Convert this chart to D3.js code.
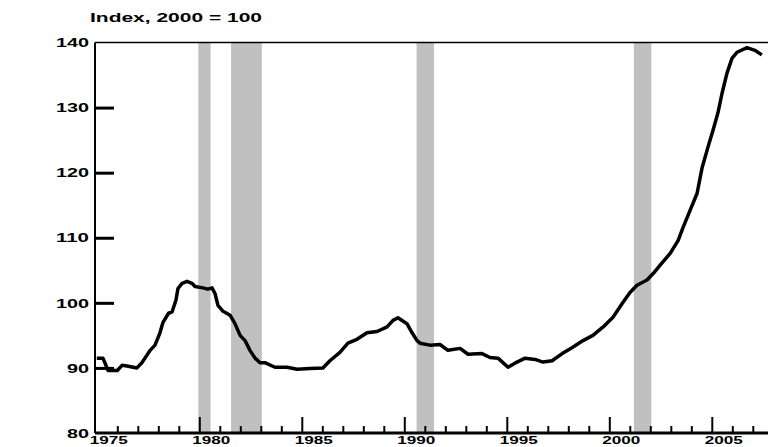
<!DOCTYPE html>
<html>
<head>
<meta charset="utf-8">
<script src="https://cdn.jsdelivr.net/npm/d3@7"></script>
<style>
  html, body { margin: 0; padding: 0; background: #fff; overflow: hidden; }
  text { font-family: "Liberation Sans", Arial, sans-serif; font-weight: bold; fill: #000; }
</style>
</head>
<body>
<div id="graph"></div>
<script>
// index values (decimal year, index)
const years = [1975.0, 1975.3, 1975.55, 1976.0, 1976.23, 1976.47, 1976.96, 1977.2, 1977.6, 1977.84,
  1978.08, 1978.23, 1978.5, 1978.67, 1978.86, 1978.96, 1979.16, 1979.4, 1979.64, 1979.79,
  1980.18, 1980.42, 1980.62, 1980.77, 1980.91, 1981.16, 1981.5, 1981.74, 1981.99, 1982.23,
  1982.47, 1982.72, 1982.96, 1983.2, 1983.69, 1984.28, 1984.77, 1985.4, 1986.03, 1986.37,
  1986.86, 1987.25, 1987.69, 1988.18, 1988.67, 1989.16, 1989.45, 1989.69, 1990.13, 1990.38,
  1990.62, 1990.77, 1991.25, 1991.74, 1992.13, 1992.72, 1993.11, 1993.79, 1994.18, 1994.57,
  1995.06, 1995.5, 1995.89, 1996.38, 1996.77, 1997.21, 1997.7, 1998.18, 1998.72, 1999.2,
  1999.7, 2000.18, 2000.67, 2001.01, 2001.35, 2001.84, 2002.14, 2002.48, 2002.97, 2003.36,
  2003.6, 2003.94, 2004.28, 2004.53, 2004.82, 2005.06, 2005.3, 2005.5, 2005.74, 2005.99,
  2006.23, 2006.72, 2007.1, 2007.44];
const index = [91.5, 91.5, 89.6, 89.6, 90.4, 90.3, 90.0, 90.8, 92.7, 93.5,
  95.4, 97.0, 98.4, 98.6, 100.4, 102.2, 103.0, 103.3, 103.0, 102.5,
  102.3, 102.1, 102.3, 101.4, 99.6, 98.7, 98.1, 96.8, 95.0, 94.2,
  92.7, 91.5, 90.8, 90.8, 90.1, 90.1, 89.8, 89.9, 90.0, 91.1,
  92.4, 93.8, 94.4, 95.4, 95.6, 96.3, 97.3, 97.7, 96.8, 95.4,
  94.2, 93.8, 93.5, 93.6, 92.7, 93.0, 92.1, 92.2, 91.6, 91.5,
  90.1, 90.9, 91.5, 91.3, 90.9, 91.1, 92.2, 93.1, 94.2, 95.0,
  96.3, 97.8, 100.1, 101.6, 102.7, 103.5, 104.5, 105.8, 107.6, 109.6,
  111.6, 114.2, 116.8, 120.8, 124.0, 126.5, 129.2, 132.2, 135.3, 137.6,
  138.5, 139.2, 138.8, 138.1];
const recessions = [[1979.95, 1980.55], [1981.55, 1983.05], [1990.6, 1991.45], [2001.2, 2002.05]];
const yTicks = [80, 90, 100, 110, 120, 130, 140];
const xLabels = [1975, 1980, 1985, 1990, 1995, 2000, 2005];
const title = "Index, 2000 = 100";

const W = 768, H = 447;
const m = { left: 95, top: 42.5, bottom: 433 };

const svg = d3.select("#graph").append("svg").attr("width", W).attr("height", H);

const x = d3.scaleLinear().domain([1975, 2008]).range([96.8, 96.8 + 33 * 20.5]);
const y = d3.scaleLinear().domain([80, 140]).range([m.bottom, m.top]);

// recession shading
svg.append("g")
  .selectAll("rect")
  .data(recessions)
  .enter()
  .append("rect")
  .attr("x", (d) => x(d[0]))
  .attr("width", (d) => x(d[1]) - x(d[0]))
  .attr("y", m.top)
  .attr("height", m.bottom - m.top)
  .attr("fill", "#c0c0c0");

// frame: top and left lines
svg.append("line").attr("x1", m.left).attr("x2", W + 5).attr("y1", m.top).attr("y2", m.top)
  .attr("stroke", "#000").attr("stroke-width", 1.5);
svg.append("line").attr("x1", m.left).attr("x2", m.left).attr("y1", m.top).attr("y2", m.bottom)
  .attr("stroke", "#000").attr("stroke-width", 2);

// y axis, ticks pointing inward
const yAxis = svg.append("g")
  .attr("transform", `translate(${m.left},0)`)
  .call(d3.axisRight(y).tickValues(yTicks.slice(1, -1)).tickSize(19).tickFormat(""));
yAxis.select(".domain").remove();
yAxis.selectAll("line").attr("stroke-width", 3);

svg.append("g")
  .selectAll("text")
  .data(yTicks)
  .enter()
  .append("text")
  .attr("x", (d) => 89 - String(d).length * 11)
  .attr("y", (d) => y(d))
  .attr("dy", "0.36em")
  .attr("font-size", 13)
  .attr("textLength", (d) => String(d).length * 11)
  .attr("lengthAdjust", "spacingAndGlyphs")
  .text((d) => d);

// x axis, minor ticks every year, major every five
const minor = d3.range(1976, 2008).filter((d) => d % 5 !== 0);
const major = d3.range(1980, 2008, 5);
const xMinor = svg.append("g")
  .attr("transform", `translate(0,${m.bottom})`)
  .call(d3.axisTop(x).tickValues(minor).tickSize(7).tickFormat(""));
xMinor.select(".domain").remove();
xMinor.selectAll("line").attr("stroke-width", 2);
const xMajor = svg.append("g")
  .attr("transform", `translate(0,${m.bottom})`)
  .call(d3.axisTop(x).tickValues(major).tickSize(16).tickFormat(""));
xMajor.select(".domain").remove();
xMajor.selectAll("line").attr("stroke-width", 2);

svg.append("line").attr("x1", m.left).attr("x2", W + 5).attr("y1", m.bottom).attr("y2", m.bottom)
  .attr("stroke", "#000").attr("stroke-width", 3);

svg.append("g")
  .selectAll("text")
  .data(xLabels)
  .enter()
  .append("text")
  .attr("x", (d) => x(d) - 7)
  .attr("y", 443.5)
  .attr("font-size", 11)
  .attr("textLength", 38)
  .attr("lengthAdjust", "spacingAndGlyphs")
  .text((d) => d);

// title
svg.append("text")
  .attr("x", 90)
  .attr("y", 21.5)
  .attr("font-size", 13)
  .attr("textLength", 172)
  .attr("lengthAdjust", "spacingAndGlyphs")
  .text(title);

// the index line
const line = d3.line()
  .x((d, i) => x(years[i]))
  .y((d) => y(d));
svg.append("path")
  .datum(index)
  .attr("fill", "none")
  .attr("stroke", "#000")
  .attr("stroke-width", 3.5)
  .attr("stroke-linejoin", "round")
  .attr("d", line);
</script>
</body>
</html>
